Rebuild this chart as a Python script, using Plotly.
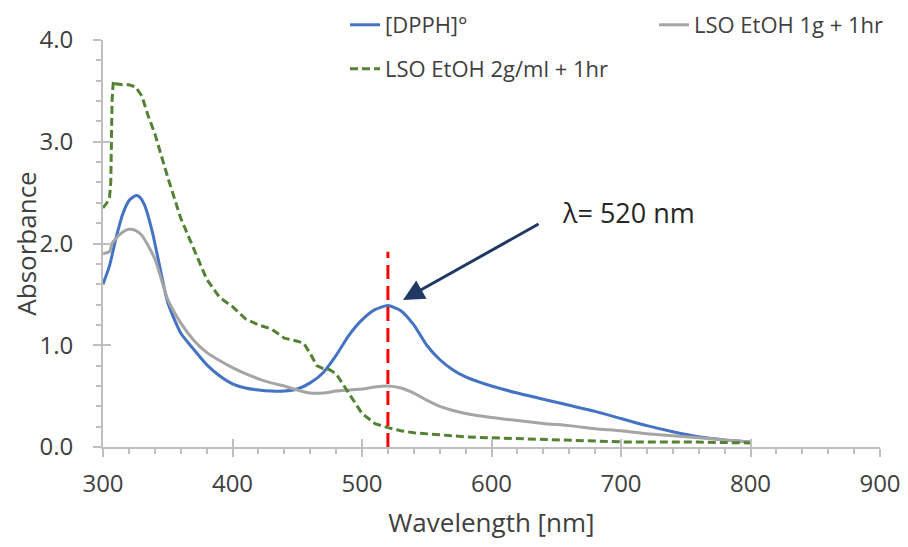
import plotly.graph_objects as go

# ---------------- data ----------------
wl_dpph = [300, 305, 310, 315, 320, 325, 328, 332, 338, 345, 350, 360, 370, 380, 390,
           400, 410, 420, 430, 440, 450, 460, 470, 480, 490, 500, 510, 520, 530, 540,
           550, 560, 570, 580, 600, 620, 640, 660, 680, 700, 720, 740, 760, 780, 800]
abs_dpph = [1.60, 1.78, 2.05, 2.28, 2.42, 2.47, 2.46, 2.38, 2.12, 1.70, 1.42, 1.12, 0.96, 0.81, 0.70,
            0.62, 0.58, 0.56, 0.55, 0.55, 0.57, 0.63, 0.73, 0.90, 1.10, 1.25, 1.35, 1.39, 1.34, 1.20,
            1.00, 0.86, 0.76, 0.69, 0.60, 0.53, 0.47, 0.41, 0.35, 0.28, 0.21, 0.15, 0.10, 0.07, 0.05]

wl_1g = [300, 305, 307, 310, 315, 320, 325, 330, 340, 350, 360, 370, 380, 390, 400, 410,
         420, 430, 440, 450, 460, 470, 480, 490, 500, 510, 520, 530, 540, 550, 560, 580,
         600, 620, 640, 660, 680, 700, 720, 740, 760, 780, 800]
abs_1g = [1.90, 1.92, 2.00, 2.05, 2.11, 2.14, 2.13, 2.08, 1.85, 1.45, 1.22, 1.05, 0.93, 0.85, 0.78, 0.72,
          0.67, 0.63, 0.60, 0.56, 0.53, 0.53, 0.55, 0.56, 0.57, 0.59, 0.60, 0.58, 0.53, 0.46, 0.40, 0.33,
          0.29, 0.26, 0.23, 0.21, 0.18, 0.16, 0.13, 0.11, 0.09, 0.07, 0.05]

wl_2g = [300, 303, 305, 306, 307, 308, 310, 315, 320, 325, 330, 335, 340, 350, 360, 370, 380,
         390, 400, 410, 420, 430, 440, 450, 455, 460, 465, 470, 475, 480, 485, 490, 500, 510,
         520, 530, 540, 560, 580, 600, 650, 700, 750, 800]
abs_2g = [2.35, 2.40, 2.45, 2.60, 3.40, 3.60, 3.57, 3.56, 3.56, 3.54, 3.45, 3.25, 3.08, 2.65, 2.25, 1.95, 1.65,
          1.47, 1.38, 1.26, 1.20, 1.16, 1.07, 1.04, 1.02, 0.92, 0.80, 0.77, 0.76, 0.72, 0.62, 0.53, 0.33, 0.23,
          0.19, 0.16, 0.14, 0.12, 0.10, 0.09, 0.07, 0.05, 0.05, 0.04]

names = ["[DPPH]°", "LSO EtOH 1g + 1hr", "LSO EtOH 2g/ml + 1hr"]
peak_nm = 520
peak_line_top = 1.92
peak_label = "λ= 520 nm"
x_ticks = [300, 400, 500, 600, 700, 800, 900]
y_ticks = [0, 1, 2, 3, 4]

FONT = "Open Sans, Noto Sans, sans-serif"
TXT = "#404040"
AX = "#BFBFBF"

fig = go.Figure()
fig.add_trace(go.Scatter(x=wl_dpph, y=abs_dpph, name=names[0], mode="lines",
                         line=dict(color="#4472C4", width=3, shape="spline", smoothing=0.6),
                         legend="legend"))
fig.add_trace(go.Scatter(x=wl_1g, y=abs_1g, name=names[1], mode="lines",
                         line=dict(color="#A5A5A5", width=3, shape="spline", smoothing=0.6),
                         legend="legend2"))
fig.add_trace(go.Scatter(x=wl_2g, y=abs_2g, name=names[2], mode="lines",
                         line=dict(color="#548235", width=3, dash="8px,4px"),
                         legend="legend3"))
# invisible trace to activate the overlay axes (inside half of crossing major ticks)
fig.add_trace(go.Scatter(x=[x_ticks[0]], y=[y_ticks[0]], xaxis="x2", yaxis="y2", mode="markers",
                         marker=dict(opacity=0), showlegend=False, hoverinfo="skip"))

fig.add_shape(type="line", x0=peak_nm, x1=peak_nm, y0=0, y1=peak_line_top, xref="x", yref="y",
              line=dict(color="#FF0000", width=3, dash="14px,7px"), layer="above")

fig.add_annotation(x=531.7, y=1.445, ax=637.5, ay=2.2, xref="x", yref="y", axref="x", ayref="y",
                   text="", showarrow=True, arrowhead=2, arrowsize=1.4, arrowwidth=3,
                   arrowcolor="#1F3864")
fig.add_annotation(x=653, y=2.30, xref="x", yref="y", text=peak_label, showarrow=False,
                   xanchor="left", yanchor="middle", font=dict(size=27, color="#262626", family=FONT))

axis_common = dict(showgrid=False, zeroline=False, showline=True, linecolor=AX, linewidth=2,
                   ticks="outside", ticklen=8, tickwidth=1.5, tickcolor=AX, automargin=False,
                   tickfont=dict(size=24, color=TXT, family=FONT))

# page has an 8px body offset; plot area wanted at page x 103..880, y 40..447
OFF = 8
PL, PT = 103 - OFF, 40 - OFF
PW, PH = 777, 407
PR = 908 - PL - PW
PB = 547 - PT - PH


def px_x(p):  # page pixel -> paper x
    return (p - OFF - PL) / PW


def px_y(p):  # page pixel -> paper y
    return (PT + PH - (p - OFF)) / PH


leg_common = dict(orientation="h", xanchor="left", yanchor="middle", bgcolor="rgba(0,0,0,0)",
                  font=dict(size=22, color=TXT, family=FONT))

fig.update_layout(
    width=908, height=547,
    margin=dict(l=PL, r=PR, t=PT, b=PB, autoexpand=False),
    paper_bgcolor="white", plot_bgcolor="white",
    font=dict(family=FONT, color=TXT),
    xaxis=dict(range=[300, 900], tickvals=x_ticks, ticklabelstandoff=6,
               minor=dict(dtick=20, tick0=300, ticks="outside", ticklen=5, tickwidth=1.5, tickcolor=AX,
                          showgrid=False),
               title=dict(text="Wavelength [nm]", font=dict(size=26, color=TXT, family=FONT), standoff=16),
               **axis_common),
    yaxis=dict(range=[0, 4], tickvals=y_ticks, tickformat=".1f", ticklabelstandoff=15,
               minor=dict(dtick=0.2, tick0=0, ticks="outside", ticklen=5, tickwidth=1.5, tickcolor=AX,
                          showgrid=False),
               title=dict(text="Absorbance", font=dict(size=26, color=TXT, family=FONT), standoff=10),
               **axis_common),
    xaxis2=dict(overlaying="x", anchor="y2", range=[300, 900], tickvals=x_ticks, ticks="inside",
                ticklen=8, tickwidth=1.5, tickcolor=AX, showticklabels=False, showline=False,
                showgrid=False, zeroline=False),
    yaxis2=dict(overlaying="y", anchor="x2", range=[0, 4], tickvals=y_ticks, ticks="inside",
                ticklen=8, tickwidth=1.5, tickcolor=AX, showticklabels=False, showline=False,
                showgrid=False, zeroline=False),
    legend=dict(x=px_x(345), y=px_y(25), **leg_common),
    legend2=dict(x=px_x(654), y=px_y(25), **leg_common),
    legend3=dict(x=px_x(345), y=px_y(69), **leg_common),
    showlegend=True,
)

fig.write_html("out.html")
